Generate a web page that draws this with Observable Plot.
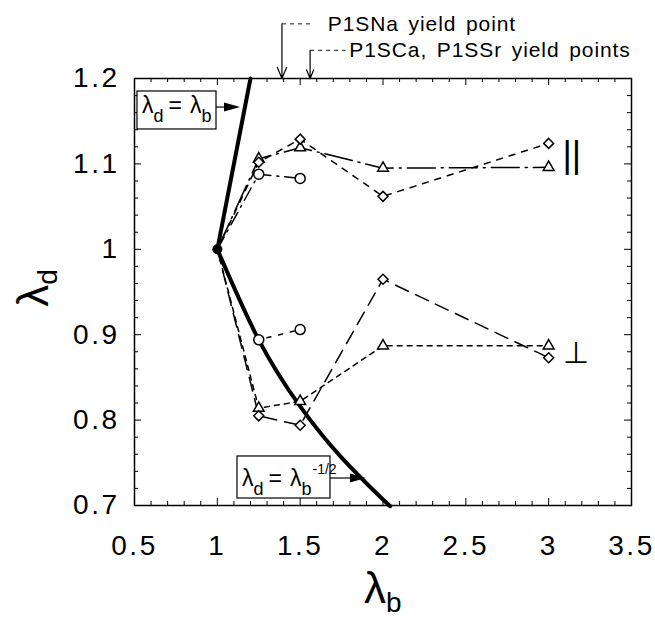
<!DOCTYPE html>
<html><head><meta charset="utf-8">
<script src="https://cdn.jsdelivr.net/npm/d3@7"></script>
<script src="https://cdn.jsdelivr.net/npm/@observablehq/plot@0.6"></script>
<style>body{margin:0;background:#fff}</style>
</head><body><div id="chart"></div>
<script>
const FONT = '"Liberation Sans", Arial, Helvetica, sans-serif';
// data (lambda_b, lambda_d)
const lambdaB = [1, 1.25, 1.5, 2, 3];
const circB = [1, 1.25, 1.5];
const triPar = [1, 1.106, 1.119, 1.095, 1.096];
const diaPar = [1, 1.102, 1.129, 1.062, 1.124];
const circPar = [1, 1.088, 1.083];
const triPerp = [1, 0.814, 0.822, 0.887, 0.887];
const diaPerp = [1, 0.805, 0.794, 0.965, 0.873];
const circPerp = [1, 0.894, 0.906];
const affineB = [1, 1.2];
const affineD = [1, 1.2];
const inverseB = [1, 1.25, 1.5, 1.75, 2, 2.04];
const inverseD = [1, 0.894, 0.816, 0.756, 0.707, 0.7];
const xTicks = [0.5, 1, 1.5, 2, 2.5, 3, 3.5];
const yTicks = [0.7, 0.8, 0.9, 1, 1.1, 1.2];
const xTickLabels = ["0.5", "1", "1.5", "2", "2.5", "3", "3.5"];
const yTickLabels = ["0.7", "0.8", "0.9", "1", "1.1", "1.2"];
const yieldX = [1.39, 1.56];
const yieldTop = [1.264, 1.233];
const yieldLeaderEnd = [1.58, 1.775];
const yieldTextX = [1.67, 1.80];
const yieldLabels = ["P1SNa yield point", "P1SCa, P1SSr yield points"];

const pts = (xs, ys) => xs.map((x, i) => ({x, y: ys[i]}));
const xMinor = d3.range(0.6, 3.45, 0.1).map(v => +v.toFixed(2)).filter(v => Math.abs(v * 2 - Math.round(v * 2)) > 1e-6);
const yMinor = d3.range(0.72, 1.19, 0.02).map(v => +v.toFixed(2)).filter(v => Math.abs(v * 10 - Math.round(v * 10)) > 1e-6);

const W = 655, H = 619, MT = 78, ML = 134, MR = 24, MB = 114;
const FW = W - ML - MR, FH = H - MT - MB;

const lineW = 1.5;
const series = [
  {d: pts(lambdaB, triPar), dash: "28,6,2,6", sym: "triangle", r: 4},
  {d: pts(lambdaB, diaPar), dash: "6,7", sym: "diamond2", r: 4.5},
  {d: pts(circB, circPar), dash: "14,6,2,6", sym: "circle", r: 5},
  {d: pts(lambdaB, triPerp), dash: "5,5", sym: "triangle", r: 4},
  {d: pts(lambdaB, diaPerp), dash: "14,8", sym: "diamond2", r: 4.5},
  {d: pts(circB, circPerp), dash: "4,8", sym: "circle", r: 5}
];

// inward frame ticks (bottom, top, left, right)
const tickMarks = (vals, len, dir) => dir === "x"
  ? [Plot.tickX(vals, {x: d => d, insetTop: FH - len, stroke: "black", strokeWidth: 1}),
     Plot.tickX(vals, {x: d => d, insetBottom: FH - len, stroke: "black", strokeWidth: 1})]
  : [Plot.tickY(vals, {y: d => d, insetRight: FW - len, stroke: "black", strokeWidth: 1}),
     Plot.tickY(vals, {y: d => d, insetLeft: FW - len, stroke: "black", strokeWidth: 1})];

const marks = [
  Plot.line(pts(affineB, affineD), {x: "x", y: "y", stroke: "black", strokeWidth: 4}),
  Plot.line(pts(inverseB, inverseD), {x: "x", y: "y", stroke: "black", strokeWidth: 4, curve: "natural"}),
  ...series.map(s => Plot.line(s.d, {x: "x", y: "y", stroke: "black", strokeWidth: lineW, strokeDasharray: s.dash})),
  ...series.map(s => Plot.dot(s.d.slice(1), {x: "x", y: "y", symbol: () => s.sym, r: s.r, fill: "white", stroke: "black", strokeWidth: 1.5})),
  Plot.dot([{x: 1, y: 1}], {x: "x", y: "y", r: 5, fill: "black"}),
  ...tickMarks(xTicks, 7, "x"),
  ...tickMarks(xMinor, 4, "x"),
  ...tickMarks(yTicks, 7, "y"),
  ...tickMarks(yMinor, 4, "y"),
  Plot.frame({stroke: "black", strokeWidth: 1.5}),
  Plot.axisX(xTicks, {anchor: "bottom", tickSize: 0, tickPadding: 30, fontSize: 28, tickFormat: (d) => xTickLabels[xTicks.indexOf(d)], label: null}),
  Plot.axisY(yTicks, {anchor: "left", tickSize: 0, tickPadding: 15, fontSize: 28, tickFormat: (d) => yTickLabels[yTicks.indexOf(d)], label: null}),
  Plot.arrow(yieldX.map((x, i) => ({x, y1: yieldTop[i], y2: 1.2})), {x1: "x", x2: "x", y1: "y1", y2: "y2", stroke: "black", strokeWidth: 1.2, headLength: 15, headAngle: 45}),
  Plot.link(yieldX.map((x, i) => ({x1: x, x2: yieldLeaderEnd[i], y: yieldTop[i]})), {x1: "x1", x2: "x2", y1: "y", y2: "y", stroke: "black", strokeWidth: 0.9, strokeDasharray: "4,4"})
];

const plot = Plot.plot({
  width: W, height: H,
  marginTop: MT, marginLeft: ML, marginRight: MR, marginBottom: MB,
  x: {domain: [0.5, 3.5]},
  y: {domain: [0.7, 1.2]},
  style: {fontFamily: FONT, fontSize: "28px", color: "black", background: "white", overflow: "visible"},
  marks
});
document.getElementById("chart").appendChild(plot);

const X = plot.scale("x"), Y = plot.scale("y");
const svg = d3.select(plot);
// letter-spaced tick labels like the reference
svg.selectAll("[aria-label='x-axis tick label'] text, [aria-label='y-axis tick label'] text").attr("letter-spacing", 2.5);
const g = svg.append("g").attr("font-family", FONT).attr("fill", "black").attr("text-anchor", "start");

// yield labels
yieldLabels.forEach((t, i) => {
  g.append("text").attr("x", X.apply(yieldTextX[i])).attr("y", Y.apply(yieldTop[i])).attr("dy", "0.36em")
    .attr("font-size", 21).attr("letter-spacing", 0.9).attr("word-spacing", 3).text(t);
});

// axis labels
const yl = g.append("text").attr("transform", `translate(48,288) rotate(-90)`).attr("text-anchor", "middle");
yl.append("tspan").attr("font-size", 44).text("λ");
yl.append("tspan").attr("font-size", 28).attr("dy", 9).text("d");
const xl = g.append("text").attr("x", 364).attr("y", 603);
xl.append("tspan").attr("font-size", 44).text("λ");
xl.append("tspan").attr("font-size", 28).attr("dy", 9).text("b");

// legend boxes
const boxes = [
  {x1: 0.518, x2: 0.995, y1: 1.1848, y2: 1.1403, tx: 0.548, ty: 1.159, ax: 1.14, ay: 1.166, sup: null},
  {x1: 1.1216, x2: 1.683, y1: 0.7574, y2: 0.7082, tx: 1.152, ty: 0.7222, ax: 1.90, ay: 0.7316, sup: "-1/2"}
];
boxes.forEach(b => {
  const x1 = X.apply(b.x1), x2 = X.apply(b.x2), y1 = Y.apply(b.y1), y2 = Y.apply(b.y2);
  g.append("rect").attr("x", x1).attr("y", y1).attr("width", x2 - x1).attr("height", y2 - y1)
    .attr("fill", "white").attr("stroke", "black").attr("stroke-width", 1.2);
  const t = g.append("text").attr("x", X.apply(b.tx)).attr("y", Y.apply(b.ty));
  t.append("tspan").attr("font-size", 23).text("λ");
  t.append("tspan").attr("font-size", 18).attr("dy", 9).text("d");
  t.append("tspan").attr("font-size", 23).attr("dy", -9).attr("dx", 5).text("=");
  t.append("tspan").attr("font-size", 23).attr("dx", 8).text("λ");
  t.append("tspan").attr("font-size", 18).attr("dy", 9).text("b");
  if (b.sup) t.append("tspan").attr("font-size", 14).attr("dy", -21).attr("dx", 1).text(b.sup);
  const ax = X.apply(b.ax), ay = Y.apply(b.ay);
  g.append("line").attr("x1", x2).attr("x2", ax - 14).attr("y1", ay).attr("y2", ay).attr("stroke", "black").attr("stroke-width", 1.2);
  g.append("path").attr("d", `M${ax},${ay}L${ax - 16},${ay - 4.5}L${ax - 16},${ay + 4.5}Z`).attr("fill", "black");
});

// orientation symbols
g.append("text").attr("x", X.apply(3.143)).attr("y", Y.apply(1.110)).attr("dy", "0.35em").attr("text-anchor", "middle")
  .attr("font-size", 36).text("||");
g.append("text").attr("x", X.apply(3.167)).attr("y", Y.apply(0.879)).attr("dy", "0.35em").attr("text-anchor", "middle")
  .attr("font-family", "DejaVu Sans").attr("font-size", 30).text("⊥");
</script>
</body></html>
